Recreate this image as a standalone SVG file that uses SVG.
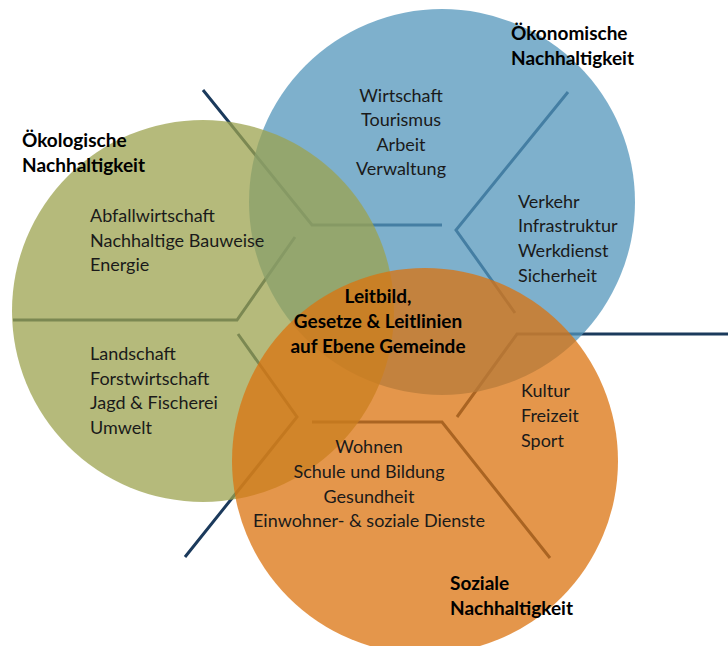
<svg xmlns="http://www.w3.org/2000/svg" width="728" height="646" viewBox="0 0 728 646">
<style>
.ln{fill:none;stroke:#1b3a5c;stroke-width:3;stroke-linejoin:miter}
.c{opacity:0.75}
.t{font-family:Lato,"Liberation Sans",sans-serif;font-size:18px;fill:#1a1a1a}
.b{font-family:Lato,"Liberation Sans",sans-serif;font-size:19px;font-weight:bold;fill:#000}
.m{text-anchor:middle}
</style>
<rect width="728" height="646" fill="#ffffff"/>
<g id="connectors">
<polyline class="ln" points="203,90 312,225 442,225"/>
<polyline class="ln" points="568,92 456,230 515,313"/>
<polyline class="ln" points="728,334 517,334 457,417"/>
<polyline class="ln" points="312,422 442,422 550,558"/>
<polyline class="ln" points="185,557 297,417 238,334"/>
<polyline class="ln" points="13,320 237,320 295,237"/>
</g>
<g id="oekonomisch">
<circle class="c" cx="442" cy="202" r="193" fill="#5395bb"/>
</g>
<g id="oekologisch">
<circle class="c" cx="203" cy="311" r="191" fill="#9ca34f"/>
</g>
<g id="sozial">
<circle class="c" cx="425" cy="461" r="193" fill="#db730f"/>
</g>
<g id="label-oekologisch">
<text class="b" x="22" y="147">Ökologische</text>
<text class="b" x="22" y="172">Nachhaltigkeit</text>
<text class="t" x="90" y="222">Abfallwirtschaft</text>
<text class="t" x="90" y="247">Nachhaltige Bauweise</text>
<text class="t" x="90" y="271">Energie</text>
<text class="t" x="90" y="360">Landschaft</text>
<text class="t" x="90" y="385">Forstwirtschaft</text>
<text class="t" x="90" y="409">Jagd &amp; Fischerei</text>
<text class="t" x="90" y="434">Umwelt</text>
</g>
<g id="label-oekonomisch">
<text class="b" x="511" y="40">Ökonomische</text>
<text class="b" x="511" y="65">Nachhaltigkeit</text>
<text class="t m" x="401" y="102">Wirtschaft</text>
<text class="t m" x="401" y="126">Tourismus</text>
<text class="t m" x="401" y="151">Arbeit</text>
<text class="t m" x="401" y="175">Verwaltung</text>
<text class="t" x="518" y="208">Verkehr</text>
<text class="t" x="518" y="232">Infrastruktur</text>
<text class="t" x="518" y="257">Werkdienst</text>
<text class="t" x="518" y="282">Sicherheit</text>
</g>
<g id="label-zentrum">
<text class="b m" x="378" y="303">Leitbild,</text>
<text class="b m" x="378" y="328">Gesetze &amp; Leitlinien</text>
<text class="b m" x="378" y="353">auf Ebene Gemeinde</text>
</g>
<g id="label-sozial">
<text class="t" x="521" y="397">Kultur</text>
<text class="t" x="521" y="422">Freizeit</text>
<text class="t" x="521" y="447">Sport</text>
<text class="t m" x="369" y="453">Wohnen</text>
<text class="t m" x="369" y="478">Schule und Bildung</text>
<text class="t m" x="369" y="503">Gesundheit</text>
<text class="t m" x="369" y="527">Einwohner- &amp; soziale Dienste</text>
<text class="b" x="450" y="590">Soziale</text>
<text class="b" x="450" y="615">Nachhaltigkeit</text>
</g>
</svg>
